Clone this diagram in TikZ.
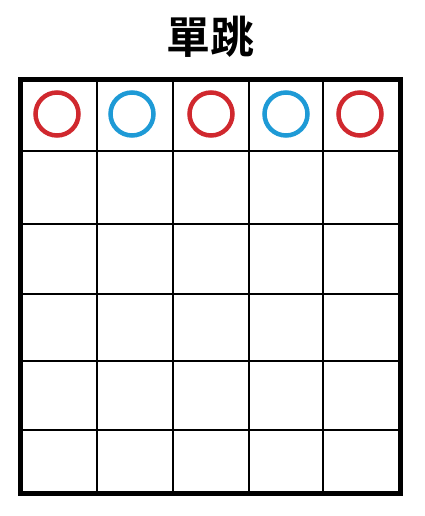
\documentclass[tikz,border=0pt]{standalone}
\usepackage{fontspec}
\newfontfamily\cjk{Noto Sans CJK TC}[BoldFont={Noto Sans CJK TC Bold}]
\definecolor{pieceRed}{HTML}{D0282E}
\definecolor{pieceBlue}{HTML}{1E9AD6}
\tikzset{
    piece/.style={circle, draw, line width=4.5pt, minimum size=43pt, inner sep=0pt},
    thin line/.style={line width=1.5pt},
    border/.style={line width=5pt}
}
\begin{document}
\begin{tikzpicture}[x=1pt,y=-1pt]

        \useasboundingbox (0,0) rectangle (425,516);

        \node (title) at (210,37) {\cjk\bfseries\fontsize{44pt}{48pt}\selectfont 單跳};

        % lineas interiores
        \draw[thin line] (97,80) -- (97,493);
        \draw[thin line] (173,80) -- (173,493);
        \draw[thin line] (249,80) -- (249,493);
        \draw[thin line] (323,80) -- (323,493);

        \draw[thin line] (20,151) -- (400,151);
        \draw[thin line] (20,224) -- (400,224);
        \draw[thin line] (20,294) -- (400,294);
        \draw[thin line] (20,361) -- (400,361);
        \draw[thin line] (20,430) -- (400,430);

        \draw[border] (20,80) rectangle (400,493);

        % fichas
        \node[piece, pieceRed] (p1) at (57,114) {};
        \node[piece, pieceBlue] (p2) at (132,114) {};
        \node[piece, pieceRed] (p3) at (211,114) {};
        \node[piece, pieceBlue] (p4) at (286,114) {};
        \node[piece, pieceRed] (p5) at (360,114) {};
    \end{tikzpicture}
\end{document}
